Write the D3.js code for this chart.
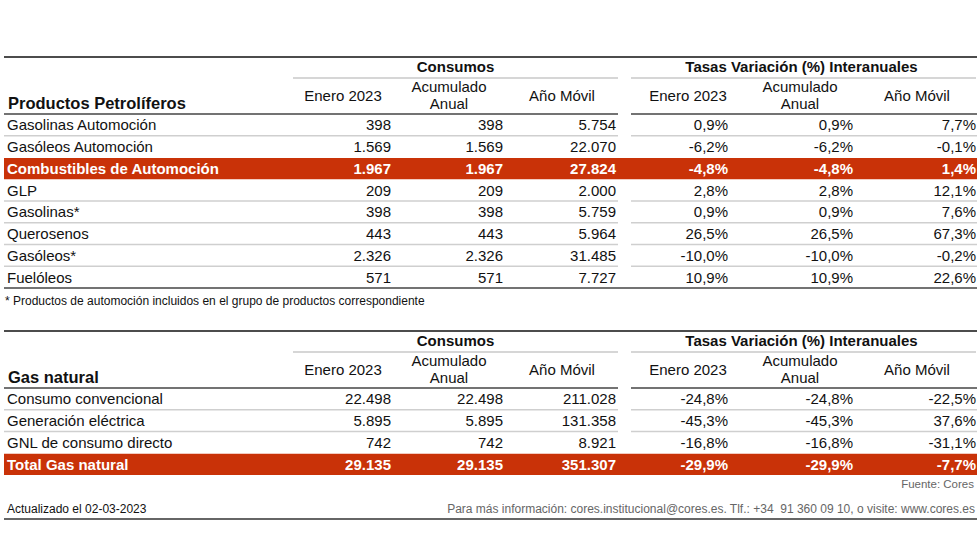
<!DOCTYPE html>
<html>
<head>
<meta charset="utf-8">
<script src="https://cdn.jsdelivr.net/npm/d3@7"></script>
<style>
  html, body { margin: 0; padding: 0; background: #fff; }
  svg { display: block; font-family: "Liberation Sans", Arial, sans-serif; }
  text { white-space: pre; }
</style>
</head>
<body>
<svg id="chart" width="980" height="560"></svg>
<script>
// ---------- DATA ----------
const groupHeaders = ["Consumos", "Tasas Variación (%) Interanuales"];
const columnHeaders = [["Enero 2023"], ["Acumulado", "Anual"], ["Año Móvil"]];

const petroTitle = "Productos Petrolíferos";
const petroCategories = ["Gasolinas Automoción", "Gasóleos Automoción", "Combustibles de Automoción",
  "GLP", "Gasolinas*", "Querosenos", "Gasóleos*", "Fuelóleos"];
const petroConsumoMes = [398, 1569, 1967, 209, 398, 443, 2326, 571];
const petroConsumoAcum = [398, 1569, 1967, 209, 398, 443, 2326, 571];
const petroConsumoMovil = [5754, 22070, 27824, 2000, 5759, 5964, 31485, 7727];
const petroTasaMes = [0.9, -6.2, -4.8, 2.8, 0.9, 26.5, -10.0, 10.9];
const petroTasaAcum = [0.9, -6.2, -4.8, 2.8, 0.9, 26.5, -10.0, 10.9];
const petroTasaMovil = [7.7, -0.1, 1.4, 12.1, 7.6, 67.3, -0.2, 22.6];
const petroHighlight = ["Combustibles de Automoción"];
const petroNote = "* Productos de automoción incluidos en el grupo de productos correspondiente";

const gasTitle = "Gas natural";
const gasCategories = ["Consumo convencional", "Generación eléctrica", "GNL de consumo directo", "Total Gas natural"];
const gasConsumoMes = [22498, 5895, 742, 29135];
const gasConsumoAcum = [22498, 5895, 742, 29135];
const gasConsumoMovil = [211028, 131358, 8921, 351307];
const gasTasaMes = [-24.8, -45.3, -16.8, -29.9];
const gasTasaAcum = [-24.8, -45.3, -16.8, -29.9];
const gasTasaMovil = [-22.5, 37.6, -31.1, -7.7];
const gasHighlight = ["Total Gas natural"];

const sourceText = "Fuente: Cores";
const updatedText = "Actualizado el 02-03-2023";
const infoText = "Para más información: cores.institucional@cores.es. Tlf.: +34  91 360 09 10, o visite: www.cores.es";

// ---------- LAYOUT ----------
const svg = d3.select("#chart");
const RED = "#c93208";
const FS = 15;
const locale = d3.formatLocale({ decimal: ",", thousands: ".", grouping: [3], currency: ["", "€"], minus: "-" });
const fmtInt = locale.format(",d");
const fmtPct = v => locale.format(",.1f")(v) + "%";

const X0 = 4, X1 = 977;
const groups = [{ x0: 293, x1: 618 }, { x0: 631, x1: 976 }];
const colRight = d3.scaleOrdinal().domain(d3.range(6)).range([391, 503, 616, 728, 853, 976]);
const colCenter = d3.scaleOrdinal().domain(d3.range(6)).range([343, 449, 562, 688, 800, 917]);
const ROWH = 21.75;

function drawTable(top, title, cats, cols, highlight) {
  const g = svg.append("g");
  const headerBottom = top + 57;
  g.append("line").attr("x1", X0).attr("x2", X1).attr("y1", top).attr("y2", top)
    .attr("stroke", "#111").attr("stroke-width", 1.5);
  groups.forEach((gr, i) => {
    g.append("text").attr("x", (gr.x0 + gr.x1) / 2 + (i === 0 ? 0 : -2)).attr("y", top + 15)
      .attr("text-anchor", "middle").attr("font-weight", "bold").attr("font-size", FS)
      .attr("fill", "#111").text(groupHeaders[i]);
    g.append("line").attr("x1", gr.x0).attr("x2", gr.x1).attr("y1", top + 21).attr("y2", top + 21)
      .attr("stroke", "#c8c8c8").attr("stroke-width", 1.5);
    columnHeaders.forEach((lines, j) => {
      const ci = i * 3 + j;
      lines.forEach((ln, k) => {
        const yy = lines.length === 1 ? top + 44 : top + 35 + k * 17;
        g.append("text").attr("text-anchor", "middle").attr("font-size", FS).attr("fill", "#111")
          .attr("x", colCenter(ci)).attr("y", yy).text(ln);
      });
    });
  });
  g.append("text").attr("x", 8).attr("y", top + 52).attr("font-weight", "bold").attr("font-size", 16.5)
    .attr("fill", "#111").text(title);

  const y = d3.scaleBand().domain(d3.range(cats.length))
    .range([headerBottom, headerBottom + cats.length * ROWH]);

  cats.forEach((cat, r) => {
    const hl = highlight.includes(cat);
    const yy = y(r);
    if (hl) {
      g.append("rect").attr("x", X0).attr("y", yy + 0.5).attr("width", X1 - X0).attr("height", y.bandwidth() - 0.5)
        .attr("fill", RED);
    }
    const color = hl ? "#fff" : "#111";
    const weight = hl ? "bold" : "normal";
    g.append("text").attr("x", 7).attr("y", yy + y.bandwidth() / 2 + 5.5).attr("font-size", FS)
      .attr("font-weight", weight).attr("fill", color).text(cat);
    cols.forEach((col, c) => {
      g.append("text").attr("x", colRight(c)).attr("y", yy + y.bandwidth() / 2 + 5.5)
        .attr("text-anchor", "end").attr("font-size", FS).attr("font-weight", weight).attr("fill", color)
        .text(c < 3 ? fmtInt(col[r]) : fmtPct(col[r]));
    });
    if (r < cats.length - 1) {
      const nextHl = highlight.includes(cats[r + 1]);
      if (!hl && !nextHl) {
        [[X0, groups[0].x1], [groups[1].x0, X1]].forEach(([a, b]) => {
          g.append("line").attr("x1", a).attr("x2", b).attr("y1", yy + y.bandwidth()).attr("y2", yy + y.bandwidth())
            .attr("stroke", "#cfcfcf").attr("stroke-width", 1.5);
        });
      }
    }
  });
  [[X0, groups[0].x1], [groups[1].x0, X1]].forEach(([a, b]) => {
    g.append("line").attr("x1", a).attr("x2", b).attr("y1", headerBottom).attr("y2", headerBottom)
      .attr("stroke", "#444").attr("stroke-width", 1.5);
  });
  const bottom = headerBottom + cats.length * ROWH;
  if (!highlight.includes(cats[cats.length - 1])) {
    g.append("line").attr("x1", X0).attr("x2", X1).attr("y1", bottom).attr("y2", bottom)
      .attr("stroke", "#444").attr("stroke-width", 1.5);
  }
  return bottom;
}

const b1 = drawTable(57, petroTitle, petroCategories,
  [petroConsumoMes, petroConsumoAcum, petroConsumoMovil, petroTasaMes, petroTasaAcum, petroTasaMovil], petroHighlight);
svg.append("text").attr("x", 5).attr("y", b1 + 17).attr("font-size", 12).attr("fill", "#111").text(petroNote);

const b2 = drawTable(331, gasTitle, gasCategories,
  [gasConsumoMes, gasConsumoAcum, gasConsumoMovil, gasTasaMes, gasTasaAcum, gasTasaMovil], gasHighlight);
svg.append("text").attr("x", 974).attr("y", b2 + 13).attr("text-anchor", "end").attr("font-size", 11.5)
  .attr("fill", "#666").text(sourceText);

svg.append("text").attr("x", 7).attr("y", 513).attr("font-size", 12).attr("fill", "#111").text(updatedText);
svg.append("text").attr("x", 975).attr("y", 513).attr("text-anchor", "end").attr("font-size", 12)
  .attr("fill", "#666").text(infoText);
svg.append("line").attr("x1", X0).attr("x2", X1).attr("y1", 519).attr("y2", 519)
  .attr("stroke", "#666").attr("stroke-width", 2);
</script>
</body>
</html>
